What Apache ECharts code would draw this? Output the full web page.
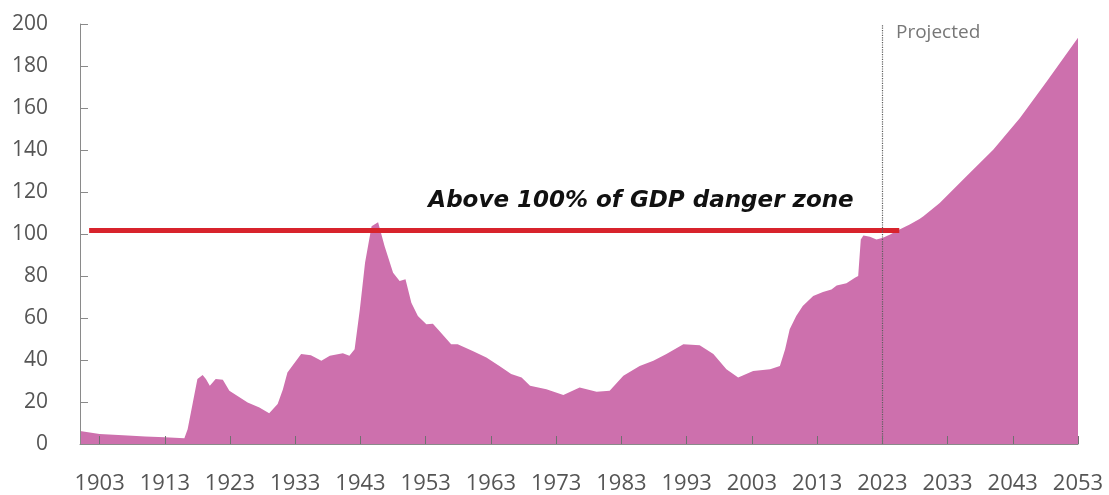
<!DOCTYPE html>
<html>
<head>
<meta charset="utf-8">
<script src="https://cdn.jsdelivr.net/npm/echarts@6/dist/echarts.min.js"></script>
<style>
  html, body { margin: 0; padding: 0; background: #fff; }
  #chart { width: 1109px; height: 495px; }
</style>
</head>
<body>
<div id="chart"></div>
<script>
// debt held by the public, % of GDP
const years = [
  1900, 1903, 1907.3, 1910, 1913, 1916, 1916.5, 1917.3, 1918.0, 1918.8,
  1919.3, 1919.9, 1920.8, 1921.9, 1922.9, 1925.7, 1927.5, 1929.0, 1930.3, 1931.1,
  1931.8, 1933.9, 1935.4, 1937.0, 1938.3, 1940.3, 1941.3, 1942.1, 1942.9, 1943.7,
  1944.7, 1945.7, 1946.7, 1948.0, 1949.0, 1949.9, 1950.8, 1951.8, 1953.1, 1954.1,
  1955.1, 1956.9, 1957.9, 1960.2, 1962.3, 1964.3, 1966.1, 1967.7, 1969.0, 1971.5,
  1974.1, 1976.6, 1979.2, 1981.2, 1983.3, 1985.8, 1987.9, 1989.9, 1992.5, 1995.0,
  1997.1, 1999.1, 2000.9, 2003.2, 2005.8, 2007.3, 2008.1, 2008.8, 2009.8, 2010.8,
  2012.4, 2013.9, 2015.2, 2016.0, 2017.5, 2018.8, 2019.3, 2019.7, 2020.1, 2021.1,
  2022.1, 2023.1, 2024.2, 2025.4, 2027.2, 2028.7, 2029.3, 2031.8, 2035.9, 2040.0,
  2044.1, 2048.2, 2053
];
const debt = [
  6.2, 4.8, 4.0, 3.6, 3.2, 2.7, 7.0, 19.8, 30.9, 32.8,
  31.0, 27.7, 31.0, 30.6, 25.3, 19.8, 17.4, 14.7, 19.0, 26.0,
  34.1, 42.8, 42.3, 39.6, 42.0, 43.2, 42.0, 45.1, 64.1, 86.3,
  103.7, 105.6, 94.2, 81.6, 77.6, 78.4, 67.3, 61.0, 57.0, 57.3,
  53.8, 47.5, 47.5, 44.3, 41.2, 37.2, 33.3, 31.7, 27.7, 26.1,
  23.3, 26.9, 24.9, 25.3, 32.5, 37.2, 39.6, 42.8, 47.5, 47.0,
  42.8, 35.6, 31.7, 34.8, 35.6, 37.2, 45.1, 54.6, 61.0, 65.7,
  70.5, 72.4, 73.6, 75.5, 76.5, 79.2, 80.0, 97.4, 99.3, 98.7,
  97.4, 98.2, 99.8, 101.8, 104.5, 107.2, 108.5, 114.8, 127.5, 140.1,
  155.2, 172.6, 193.5
];
const tickYears = [1903, 1913, 1923, 1933, 1943, 1953, 1963, 1973, 1983, 1993,
  2003, 2013, 2023, 2033, 2043, 2053];
const dangerLevel = 101.6;
const dangerSpan = [1901.4, 2025.6];
const projectedFrom = 2023;

const chart = echarts.init(document.getElementById('chart'));

chart.setOption({
  animation: false,
  grid: { left: 80, right: 31, top: 24, bottom: 50 },
  xAxis: {
    type: 'value',
    min: 1900,
    max: 2053,
    z: 5,
    splitLine: { show: false },
    axisLine: { lineStyle: { color: '#8a8a8a', width: 1 } },
    axisTick: {
      customValues: tickYears,
      inside: true,
      length: 8,
      lineStyle: { color: '#707070' }
    },
    axisLabel: {
      customValues: tickYears,
      margin: 29,
      fontFamily: 'Open Sans',
      fontSize: 22,
      color: '#555',
      formatter: v => String(v)
    }
  },
  yAxis: {
    type: 'value',
    min: 0,
    max: 200,
    interval: 20,
    z: 5,
    splitLine: { show: false },
    axisLine: { show: true, lineStyle: { color: '#8a8a8a', width: 1 } },
    axisTick: { show: true, inside: true, length: 8, lineStyle: { color: '#8a8a8a' } },
    axisLabel: {
      margin: 32,
      fontFamily: 'Open Sans',
      fontSize: 21,
      color: '#555'
    }
  },
  series: [
    {
      type: 'line',
      data: years.map((y, i) => [y, debt[i]]),
      symbol: 'none',
      lineStyle: { width: 0 },
      areaStyle: { color: '#cd70ad', opacity: 1 },
      markLine: {
        silent: true,
        symbol: 'none',
        label: { show: false },
        data: [
          [
            { coord: [dangerSpan[0], dangerLevel], lineStyle: { color: '#d8232c', width: 5, type: 'solid' } },
            { coord: [dangerSpan[1], dangerLevel] }
          ],
          { xAxis: projectedFrom, lineStyle: { color: '#5e5e5e', width: 1.2, type: 'dotted' } }
        ]
      }
    }
  ],
  graphic: [
    {
      type: 'text',
      x: 641,
      y: 201,
      z: 100,
      style: {
        text: 'Above 100% of GDP danger zone',
        fontFamily: 'DejaVu Sans',
        fontWeight: 'bold',
        fontStyle: 'italic',
        fontSize: 23,
        fill: '#111',
        align: 'center',
        verticalAlign: 'middle'
      }
    },
    {
      type: 'text',
      x: 896,
      y: 23,
      z: 100,
      style: {
        text: 'Projected',
        fontFamily: 'Open Sans',
        fontSize: 19,
        fill: '#777'
      }
    }
  ]
});
</script>
</body>
</html>
